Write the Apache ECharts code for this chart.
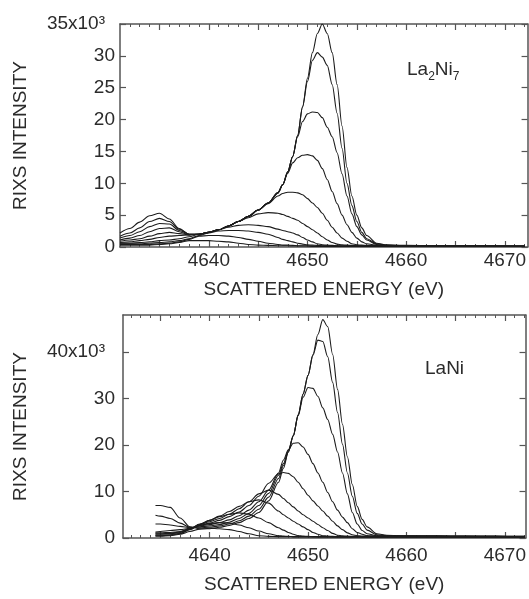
<!DOCTYPE html>
<html>
<head>
<meta charset="utf-8">
<script src="https://cdn.jsdelivr.net/npm/echarts@6/dist/echarts.min.js"></script>
<style>
html,body{margin:0;padding:0;background:#fff;}
#c{width:529px;height:599px;}
</style>
</head>
<body>
<div id="c"></div>
<script>
// ---------- DATA ----------
const xTickLabels = [4640, 4650, 4660, 4670];
const xMajorTicks = [4635, 4640, 4645, 4650, 4655, 4660, 4665, 4670];
const yTopLabels = [0, 5, 10, 15, 20, 25, 30, 35];   // 35 shown as 35x10^3
const yBottomLabels = [0, 10, 20, 30, 40];          // 40 shown as 40x10^3

// La2Ni7 panel (top)
const eTop = [4631,4632,4633,4634,4635,4636,4637,4638,4639,4640,4641,4642,4643,4644,4645,4646,4647,
  4647.5,4648,4648.5,4649,4649.5,4650,4650.5,4651,4651.5,4652,4652.5,4653,4653.5,4654,4654.5,4655,4655.5,4656,
  4657,4658,4660,4663,4666,4669,4672];
const t1 = [2.2,2.9,3.9,4.9,5.3,4.4,2.9,2.0,2.0,2.3,2.7,3.3,4.0,4.8,5.8,6.9,8.5,
  9.8,11.8,14.2,17.5,22.0,26.5,30.5,33.5,35.0,33.5,30.5,25.5,19.0,12.5,8.0,5.0,3.0,1.8,
  0.6,0.3,0.2,0.2,0.15,0.15,0.1];
const t2 = [1.7,2.2,3.0,4.0,4.5,4.0,2.8,2.0,2.0,2.3,2.7,3.3,4.0,4.8,5.8,6.9,8.5,
  9.8,11.8,14.2,17.5,22.0,26.0,29.3,30.5,29.8,28.5,25.5,21.0,15.5,10.0,6.5,4.0,2.3,1.3,
  0.5,0.3,0.25,0.2,0.2,0.15,0.15];
const t3 = [1.4,1.8,2.4,3.2,3.7,3.6,2.6,2.0,2.0,2.3,2.7,3.3,4.0,4.8,5.8,6.9,8.5,
  9.8,11.8,14.2,17.3,19.7,20.9,21.2,21.1,20.3,18.8,17.3,14.8,11.5,8.0,5.2,3.2,1.9,1.1,
  0.4,0.25,0.2,0.2,0.15,0.15,0.1];
const t4 = [1.1,1.4,1.8,2.4,2.9,3.0,2.4,1.9,2.0,2.3,2.7,3.3,4.0,4.8,5.8,6.9,8.5,
  9.8,11.6,13.2,14.0,14.4,14.5,14.3,13.6,12.3,10.6,8.7,6.8,5.0,3.5,2.3,1.4,0.8,0.5,
  0.3,0.25,0.2,0.2,0.15,0.15,0.1];
const t5 = [0.9,1.1,1.3,1.7,2.1,2.3,2.1,1.9,2.0,2.3,2.7,3.3,4.0,4.8,5.8,6.8,8.0,
  8.4,8.6,8.6,8.5,8.2,7.6,6.9,6.2,5.3,4.2,3.1,2.2,1.4,0.9,0.5,0.35,0.3,0.25,
  0.2,0.2,0.2,0.15,0.15,0.1,0.1];
const t6 = [0.7,0.8,1.0,1.2,1.5,1.7,1.8,1.9,2.0,2.3,2.7,3.3,4.0,4.6,5.2,5.4,5.3,
  5.1,4.8,4.5,4.2,3.7,3.2,2.7,2.2,1.6,1.1,0.7,0.45,0.35,0.3,0.25,0.2,0.2,0.2,
  0.2,0.15,0.15,0.15,0.1,0.1,0.1];
const t7 = [0.6,0.6,0.7,0.8,1.0,1.1,1.3,1.6,2.0,2.3,2.7,3.1,3.4,3.5,3.4,3.2,2.8,
  2.6,2.4,2.2,1.9,1.5,1.1,0.8,0.5,0.35,0.3,0.25,0.2,0.2,0.2,0.2,0.15,0.15,0.15,
  0.15,0.1,0.1,0.1,0.1,0.1,0.1];
const t8 = [0.5,0.5,0.5,0.6,0.7,0.8,1.0,1.3,1.8,2.2,2.5,2.6,2.6,2.5,2.3,2.0,1.5,
  1.2,1.0,0.8,0.6,0.45,0.35,0.3,0.25,0.2,0.2,0.2,0.15,0.15,0.15,0.15,0.15,0.1,0.1,
  0.1,0.1,0.1,0.1,0.1,0.1,0.1];
const t9 = [0.4,0.4,0.4,0.4,0.5,0.6,0.8,1.2,1.7,1.8,1.8,1.7,1.5,1.2,0.9,0.6,0.4,
  0.3,0.3,0.25,0.2,0.2,0.2,0.15,0.15,0.15,0.15,0.15,0.1,0.1,0.1,0.1,0.1,0.1,0.1,
  0.1,0.1,0.1,0.1,0.1,0.1,0.1];
const t10 = [0.3,0.3,0.3,0.3,0.4,0.5,0.7,1.0,1.0,1.0,0.9,0.8,0.6,0.4,0.3,0.25,0.2,
  0.2,0.2,0.15,0.15,0.15,0.15,0.1,0.1,0.1,0.1,0.1,0.1,0.1,0.1,0.1,0.1,0.1,0.1,
  0.1,0.1,0.1,0.1,0.1,0.1,0.1];

// LaNi panel (bottom)
const eBot = [4634.5,4635,4636,4637,4638,4639,4640,4641,4642,4643,4644,4645,4646,4647,
  4647.5,4648,4648.5,4649,4649.5,4650,4650.5,4651,4651.5,4652,4652.5,4653,4653.5,4654,4654.5,4655,4655.5,4656,
  4657,4658,4660,4663,4666,4669,4672];
const b1 = [7.0,7.0,6.6,4.3,2.4,2.0,2.0,2.3,2.7,3.3,4.2,5.5,8.0,12.0,
  15.0,18.5,22.0,26.5,31.0,35.0,39.5,43.8,47.0,45.5,39.5,32.0,24.5,17.5,11.5,6.8,4.0,2.4,
  0.9,0.6,0.5,0.45,0.4,0.4,0.35];
const b2 = [4.9,4.7,4.2,3.2,2.3,2.2,2.3,2.6,3.0,3.7,4.7,6.2,8.8,12.8,
  15.6,18.5,22.0,26.5,31.0,35.0,39.3,42.6,42.3,39.0,33.5,27.0,20.2,14.0,9.0,5.3,3.0,1.7,
  0.7,0.5,0.45,0.4,0.4,0.35,0.35];
const b3 = [3.0,3.0,2.8,2.5,2.2,2.4,2.6,2.9,3.4,4.2,5.3,7.0,9.6,13.5,
  16.0,18.8,22.0,26.3,30.3,32.4,32.2,30.5,28.0,25.5,22.3,18.5,14.0,9.5,5.5,3.0,1.6,0.9,
  0.5,0.45,0.4,0.4,0.35,0.35,0.3];
const b4 = [1.3,1.4,1.6,1.8,2.1,2.6,2.9,3.3,3.9,4.8,6.0,7.8,10.3,14.0,
  16.8,19.0,20.4,20.5,19.6,18.0,16.0,14.0,12.0,9.8,7.8,6.0,4.5,3.3,2.0,1.2,0.8,0.5,
  0.4,0.4,0.35,0.35,0.3,0.3,0.3];
const b5 = [1.1,1.1,1.2,1.4,2.0,2.7,3.2,3.8,4.6,5.6,7.0,9.0,11.8,13.8,
  14.1,13.9,13.2,12.0,10.6,9.2,8.0,6.9,5.8,4.7,3.6,2.6,1.8,1.1,0.7,0.5,0.4,0.4,
  0.35,0.35,0.3,0.3,0.3,0.3,0.3];
const b6 = [0.9,0.9,1.0,1.3,2.0,2.9,3.5,4.2,5.1,6.3,7.8,9.5,10.3,9.4,
  8.5,7.6,6.7,5.8,5.0,4.3,3.6,2.9,2.2,1.6,1.0,0.6,0.45,0.4,0.35,0.35,0.3,0.3,
  0.3,0.3,0.3,0.25,0.25,0.25,0.25];
const b7 = [0.8,0.8,0.9,1.2,2.0,3.0,3.8,4.7,5.7,6.8,7.8,8.2,7.5,5.8,
  5.0,4.3,3.6,3.0,2.4,1.8,1.2,0.8,0.5,0.4,0.35,0.3,0.3,0.3,0.3,0.3,0.3,0.25,
  0.25,0.25,0.25,0.25,0.2,0.2,0.2];
const b8 = [0.6,0.6,0.7,1.0,1.9,2.9,3.8,4.6,5.1,5.4,5.1,4.3,3.3,2.2,
  1.7,1.2,0.8,0.5,0.4,0.35,0.3,0.3,0.3,0.3,0.25,0.25,0.25,0.25,0.25,0.25,0.25,0.2,
  0.2,0.2,0.2,0.2,0.2,0.2,0.2];
const b9 = [0.5,0.5,0.6,0.9,1.8,2.7,3.1,3.3,3.2,2.8,2.2,1.5,0.9,0.5,
  0.4,0.35,0.3,0.3,0.3,0.3,0.3,0.25,0.25,0.25,0.25,0.25,0.25,0.2,0.2,0.2,0.2,0.2,
  0.2,0.2,0.2,0.2,0.2,0.2,0.2];
const b10 = [0.4,0.4,0.5,0.8,1.4,1.9,2.1,2.0,1.8,1.4,0.9,0.5,0.35,0.3,
  0.3,0.3,0.25,0.25,0.25,0.25,0.25,0.2,0.2,0.2,0.2,0.2,0.2,0.2,0.2,0.2,0.2,0.2,
  0.2,0.2,0.2,0.2,0.2,0.2,0.2];

const topCurves = [t1,t2,t3,t4,t5,t6,t7,t8,t9,t10];
const botCurves = [b1,b2,b3,b4,b5,b6,b7,b8,b9,b10];

// ---------- CHART ----------
const FONT = 'Liberation Sans, Arial, Helvetica, sans-serif';
const TXT = '#2b2b2b';
const AX = '#555';
const minorTicks = [];
for (let v = 4632; v <= 4672; v++) if (xMajorTicks.indexOf(v) < 0) minorTicks.push(v);

function xAxes(grid, min, max, labelMargin, nameGap) {
  const common = {gridIndex: grid, type: 'value', min: min, max: max, splitLine: {show: false}};
  return [
    Object.assign({}, common, {
      position: 'bottom',
      axisLine: {show: true, lineStyle: {color: AX, width: 1.5}},
      axisTick: {show: true, inside: true, length: 6, customValues: xMajorTicks, lineStyle: {color: AX, width: 1.2}},
      axisLabel: {show: true, customValues: xTickLabels, margin: labelMargin, fontSize: 19, color: TXT, fontFamily: FONT,
        formatter: function (v) { return String(v); }},
      name: 'SCATTERED ENERGY (eV)', nameLocation: 'middle', nameGap: nameGap,
      nameTextStyle: {fontSize: 19, color: TXT, fontFamily: FONT}
    }),
    Object.assign({}, common, {
      position: 'bottom',
      axisLine: {show: false},
      axisTick: {show: true, inside: true, length: 3, customValues: minorTicks, lineStyle: {color: AX, width: 1}},
      axisLabel: {show: false}
    }),
    Object.assign({}, common, {
      position: 'top',
      axisLine: {show: true, lineStyle: {color: AX, width: 1.5}},
      axisTick: {show: true, inside: true, length: 6, customValues: xMajorTicks, lineStyle: {color: AX, width: 1.2}},
      axisLabel: {show: false}
    }),
    Object.assign({}, common, {
      position: 'top',
      axisLine: {show: false},
      axisTick: {show: true, inside: true, length: 3, customValues: minorTicks, lineStyle: {color: AX, width: 1}},
      axisLabel: {show: false}
    })
  ];
}

function yAxes(grid, max, labels, labelMargin, nameGap) {
  const topLabel = labels[labels.length - 1];
  return [
    {
      gridIndex: grid, type: 'value', min: 0, max: max, position: 'left',
      splitLine: {show: false},
      axisLine: {show: true, lineStyle: {color: AX, width: 1.5}},
      axisTick: {show: true, inside: true, length: 6, customValues: labels, lineStyle: {color: AX, width: 1.2}},
      axisLabel: {
        customValues: labels,
        margin: labelMargin, fontSize: 19, color: TXT, fontFamily: FONT,
        formatter: function (v) { return v === topLabel ? '{p|' + v + 'x10\u00B3}' : String(v); },
        rich: {p: {fontSize: 19, color: TXT, fontFamily: FONT, padding: [0, 10, 0, 0]}}
      },
      name: 'RIXS INTENSITY', nameLocation: 'middle', nameGap: nameGap, nameRotate: 90,
      nameTextStyle: {fontSize: 19, color: TXT, fontFamily: FONT}
    },
    {
      gridIndex: grid, type: 'value', min: 0, max: max, position: 'right',
      splitLine: {show: false},
      axisLine: {show: true, lineStyle: {color: AX, width: 1.5}},
      axisTick: {show: true, inside: true, length: 6, customValues: labels, lineStyle: {color: AX, width: 1.2}},
      axisLabel: {show: false}
    }
  ];
}

function mkSeries(energies, curves, xi, yi) {
  return curves.map(function (vals) {
    return {
      type: 'line', xAxisIndex: xi, yAxisIndex: yi,
      showSymbol: false, symbol: 'none', smooth: 0.3, smoothMonotone: 'x',
      lineStyle: {color: '#1c1c1c', width: 1.1},
      silent: true,
      data: energies.map(function (e, i) { return [e, vals[i]]; })
    };
  });
}

const chart = echarts.init(document.getElementById('c'), null, {renderer: 'canvas'});
chart.setOption({
  animation: false,
  backgroundColor: '#fff',
  grid: [
    {left: 120, top: 24, width: 408, height: 223},
    {left: 123, top: 315, width: 406, height: 223}
  ],
  xAxis: xAxes(0, 4631, 4672.3, 4, 33).concat(xAxes(1, 4631.2, 4672.1, 8, 37)),
  yAxis: yAxes(0, 35, yTopLabels, 5, 90).concat(yAxes(1, 48, yBottomLabels, 8, 93)),
  series: mkSeries(eTop, topCurves, 0, 0).concat(mkSeries(eBot, botCurves, 4, 2)),
  graphic: [
    {
      type: 'text', left: 407, top: 60,
      style: {
        text: '{n|La}{s|2}{n|Ni}{s|7}',
        fill: TXT,
        rich: {
          n: {fontSize: 19, fontFamily: FONT, fill: TXT, verticalAlign: 'bottom', padding: [0, 0, 4, 0]},
          s: {fontSize: 12, fontFamily: FONT, fill: TXT, verticalAlign: 'bottom'}
        }
      }
    },
    {
      type: 'text', left: 425, top: 359,
      style: {text: 'LaNi', fill: TXT, font: '19px ' + FONT}
    }
  ]
});
</script>
</body>
</html>
